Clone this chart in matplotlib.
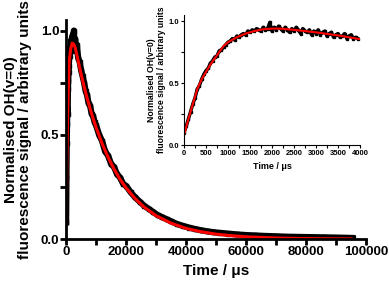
import matplotlib
matplotlib.use('Agg')
import matplotlib.pyplot as plt
from matplotlib.ticker import MultipleLocator

plt.rcParams['font.family'] = ['Liberation Sans', 'DejaVu Sans']
plt.rcParams['font.weight'] = 'bold'

# main trace: measured signal (black) and fit (red), time in microseconds
main_t = [0, 100, 200, 300, 400, 500, 600, 700, 800, 900, 1000, 1200, 1400,
          1600, 1800, 2000, 2200, 2400, 2600, 2800, 3000, 3300, 3600, 4000,
          4500, 5000, 5500, 6000, 6500, 7000, 7500, 8000, 8500, 9000, 9500,
          10000, 11000, 12000, 13000, 14000, 15000, 16000, 17000, 18000,
          19000, 20000, 21500, 23000, 24500, 26000, 27500, 29000, 30500,
          32000, 33500, 35000, 37000, 39000, 41000, 43000, 45000, 47000,
          49000, 51000, 54000, 57000, 60000, 63000, 66000, 70000, 74000,
          78000, 82000, 86000, 90000, 93000, 95500]
main_v = [0.08, 0.30, 0.46, 0.55, 0.63, 0.60, 0.72, 0.76, 0.80, 0.83, 0.87,
          0.88, 0.92, 0.90, 0.96, 0.93, 0.98, 0.94, 1.00, 0.92, 0.96, 0.90,
          0.93, 0.87, 0.85, 0.81, 0.78, 0.75, 0.71, 0.69, 0.65, 0.64, 0.60,
          0.59, 0.56, 0.545, 0.50, 0.47, 0.42, 0.40, 0.36, 0.345, 0.31,
          0.295, 0.265, 0.255, 0.225, 0.20, 0.18, 0.16, 0.145, 0.13, 0.115,
          0.105, 0.095, 0.085, 0.072, 0.063, 0.055, 0.048, 0.042, 0.037,
          0.033, 0.030, 0.026, 0.022, 0.019, 0.017, 0.015, 0.013, 0.011,
          0.010, 0.009, 0.008, 0.007, 0.006, 0.005]

fit_t = [0, 250, 500, 750, 1000, 1500, 2000, 2500, 3000, 4000, 5000, 6000,
         7000, 8000, 9000, 10000, 12000, 14000, 16000, 18000, 20000, 23000,
         26000, 30000, 35000, 40000, 45000, 50000, 55000, 60000, 70000,
         80000, 90000, 95000]
fit_v = [0.08, 0.38, 0.59, 0.74, 0.85, 0.91, 0.94, 0.935, 0.92, 0.855, 0.79,
         0.731, 0.676, 0.626, 0.578, 0.535, 0.458, 0.392, 0.335, 0.286,
         0.245, 0.194, 0.153, 0.112, 0.076, 0.051, 0.035, 0.0235, 0.016,
         0.0108, 0.0049, 0.0022, 0.001, 0.0007]

# inset: first 4000 us
ins_t = [0, 50, 100, 150, 200, 250, 300, 350, 400, 450, 500, 550, 600, 650,
         700, 750, 800, 850, 900, 950, 1000, 1050, 1100, 1150, 1200, 1250,
         1300, 1350, 1400, 1450, 1500, 1550, 1600, 1650, 1700, 1750, 1800,
         1850, 1900, 1950, 2000, 2050, 2100, 2150, 2200, 2250, 2300, 2350,
         2400, 2450, 2500, 2550, 2600, 2650, 2700, 2750, 2800, 2850, 2900,
         2950, 3000, 3050, 3100, 3150, 3200, 3250, 3300, 3350, 3400, 3450,
         3500, 3550, 3600, 3650, 3700, 3750, 3800, 3850, 3900, 3950]
ins_v = [0.10, 0.15, 0.21, 0.27, 0.33, 0.38, 0.45, 0.48, 0.53, 0.57, 0.60,
         0.62, 0.66, 0.68, 0.71, 0.72, 0.76, 0.77, 0.79, 0.81, 0.83, 0.84,
         0.86, 0.85, 0.88, 0.87, 0.89, 0.90, 0.89, 0.92, 0.91, 0.93, 0.92,
         0.94, 0.93, 0.92, 0.95, 0.93, 0.94, 0.99, 0.92, 0.95, 0.93, 0.96,
         0.94, 0.92, 0.95, 0.93, 0.91, 0.94, 0.92, 0.95, 0.93, 0.90, 0.94,
         0.92, 0.91, 0.93, 0.89, 0.92, 0.90, 0.93, 0.89, 0.91, 0.92, 0.88,
         0.90, 0.91, 0.87, 0.89, 0.90, 0.87, 0.88, 0.90, 0.86, 0.88, 0.89,
         0.86, 0.87, 0.86]
ins_fit_t = [0, 100, 200, 300, 400, 500, 600, 700, 800, 900, 1000, 1200,
             1400, 1600, 1800, 2000, 2200, 2500, 3000, 3500, 4000]
ins_fit_v = [0.08, 0.21, 0.33, 0.45, 0.53, 0.59, 0.65, 0.70, 0.75, 0.80,
             0.83, 0.87, 0.90, 0.92, 0.935, 0.94, 0.94, 0.93, 0.91, 0.885,
             0.855]

ylabel = 'Normalised OH(v=0)\nfluorescence signal / arbitrary units'

fig = plt.figure(figsize=(3.89, 2.88), dpi=100)

ax = fig.add_axes([0.170, 0.170, 0.771, 0.760])
ax.plot(main_t, main_v, color='black', lw=4.5, marker='s', ms=2.5)
ax.plot(fit_t, fit_v, color='red', lw=2.2)
ax.set_xlim(0, 100000)
ax.set_ylim(0, 1.05)
ax.xaxis.set_major_locator(MultipleLocator(20000))
ax.xaxis.set_minor_locator(MultipleLocator(10000))
ax.yaxis.set_major_locator(MultipleLocator(0.5))
ax.yaxis.set_minor_locator(MultipleLocator(0.25))
for side in ['top', 'right']:
    ax.spines[side].set_visible(False)
for side in ['left', 'bottom']:
    ax.spines[side].set_linewidth(2)
ax.tick_params(which='both', direction='out', length=4, width=2,
               labelsize=9.5, pad=1)
ax.set_xlabel('Time / μs', fontsize=11, fontweight='bold', labelpad=4)
ax.set_ylabel(ylabel, fontsize=11, fontweight='bold', labelpad=6,
              linespacing=1.05)

ins = fig.add_axes([0.473, 0.4965, 0.4524, 0.4514])
ins.plot(ins_t, ins_v, color='black', lw=2.5, marker='s', ms=2)
ins.plot(ins_fit_t, ins_fit_v, color='red', lw=1.5)
ins.set_xlim(0, 4000)
ins.set_ylim(0, 1.05)
ins.xaxis.set_major_locator(MultipleLocator(500))
ins.xaxis.set_minor_locator(MultipleLocator(250))
ins.yaxis.set_major_locator(MultipleLocator(0.5))
ins.yaxis.set_minor_locator(MultipleLocator(0.25))
for side in ['top', 'right']:
    ins.spines[side].set_visible(False)
ins.tick_params(which='both', direction='out', length=2, width=0.8,
                labelsize=5.5, pad=1.5)
ins.set_xlabel('Time / μs', fontsize=6.5, fontweight='bold', labelpad=4)
ins.set_ylabel(ylabel, fontsize=6.2, fontweight='bold', labelpad=2,
               linespacing=1.05)

fig.savefig('out.png', dpi=100)
